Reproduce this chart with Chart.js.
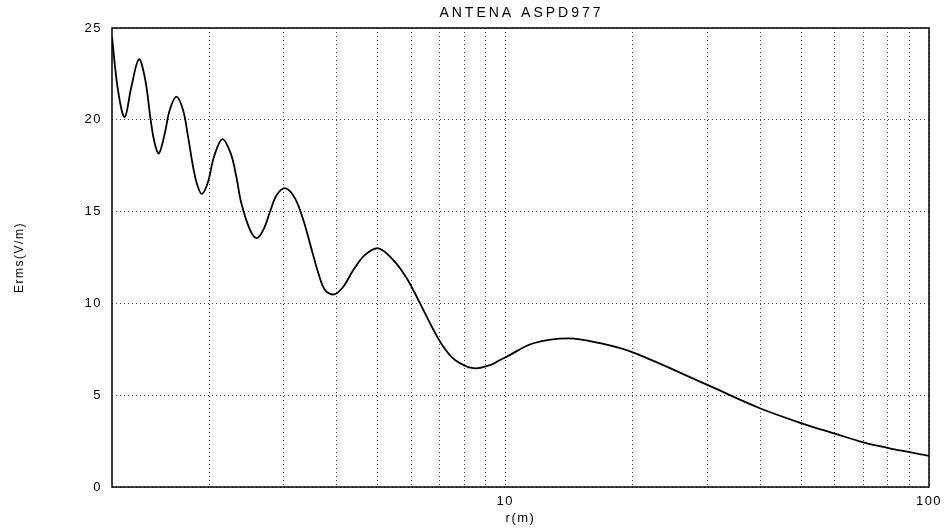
<!DOCTYPE html>
<html>
<head>
<meta charset="utf-8">
<title>ANTENA ASPD977</title>
<script src="https://cdn.jsdelivr.net/npm/chart.js@4/dist/chart.umd.min.js"></script>
<style>
  html, body { margin: 0; padding: 0; background: #fff; }
  #wrap { width: 950px; height: 529px; }
</style>
</head>
<body>
<div id="wrap"><canvas id="antennaChart" width="950" height="529"></canvas></div>
<script>
// distance r (m) and field strength Erms (V/m)
const radiusM = [1.18, 1.219, 1.264, 1.311, 1.366, 1.414, 1.456, 1.488, 1.523, 1.572,
                 1.615, 1.674, 1.736, 1.784, 1.833, 1.876, 1.924, 1.989, 2.054, 2.149,
                 2.249, 2.319, 2.383, 2.498, 2.591, 2.685, 2.785, 2.888, 3.032, 3.19,
                 3.337, 3.494, 3.622, 3.754, 3.944, 4.148, 4.379, 4.667, 5.016, 5.443,
                 5.854, 6.293, 6.708, 7.142, 7.61, 8.408, 9.205, 9.719, 10.08, 11.65,
                 14.09, 16.74, 20.06, 30.0, 39.9, 50.1, 60.3, 70.0, 80.6, 90.7, 100];
const ermsValues = [24.5, 21.62, 20.14, 21.80, 23.30, 22.17, 19.99, 18.72, 18.17, 19.26,
                    20.53, 21.26, 20.53, 19.08, 17.45, 16.45, 15.96, 16.63, 17.99, 18.95,
                    18.17, 16.90, 15.45, 14.0, 13.55, 14.0, 14.99, 15.90, 16.27, 15.72,
                    14.54, 12.91, 11.64, 10.73, 10.49, 10.91, 11.82, 12.64, 13.0, 12.36,
                    11.37, 10.0, 8.73, 7.64, 6.92, 6.47, 6.64, 6.92, 7.10, 7.83,
                    8.10, 7.83, 7.32, 5.56, 4.29, 3.47, 2.89, 2.43, 2.11, 1.89, 1.69];
const xGridTicks = [2, 3, 4, 5, 6, 7, 8, 9, 10, 20, 30, 40, 50, 60, 70, 80, 90, 100];
const xLabelTicks = [10, 100];
const yTicks = [0, 5, 10, 15, 20, 25];
const chartTitle = 'ANTENA ASPD977';

const points = radiusM.map((r, i) => ({ x: r, y: ermsValues[i] }));

// the old plot has wide lettering, canvas state gets reset on resize so set it each time
const wideText = {
  id: 'wideText',
  beforeLayout(chart) { chart.ctx.letterSpacing = '1.5px'; },
  beforeDraw(chart) { chart.ctx.letterSpacing = '1.5px'; }
};

// MATLAB-like closed box + title centred over the axes
const boxFrame = {
  id: 'boxFrame',
  afterDraw(chart) {
    const a = chart.chartArea;
    const c = chart.ctx;
    c.save();
    c.strokeStyle = '#000';
    c.lineWidth = 1.5;
    c.strokeRect(a.left, a.top, a.right - a.left, a.bottom - a.top);
    c.letterSpacing = '3px';
    c.fillStyle = '#000';
    c.font = '14px "Liberation Sans"';
    c.textAlign = 'center';
    c.textBaseline = 'middle';
    c.fillText(chartTitle, (a.left + a.right) / 2 + 1, 13);
    c.restore();
  }
};

const ctx = document.getElementById('antennaChart').getContext('2d');
new Chart(ctx, {
  type: 'line',
  data: {
    datasets: [{
      label: 'Erms',
      data: points,
      borderColor: '#000',
      borderWidth: 1.8,
      pointRadius: 0,
      fill: false,
      tension: 0.35
    }]
  },
  options: {
    responsive: false,
    animation: false,
    devicePixelRatio: 1,
    layout: { padding: { left: 0, right: 21, top: 28, bottom: 0 } },
    plugins: {
      legend: { display: false },
      tooltip: { enabled: false },
      title: { display: false }
    },
    scales: {
      x: {
        type: 'logarithmic',
        min: 1.18,
        max: 100,
        afterBuildTicks: (scale) => {
          scale.ticks = xGridTicks.map(v => ({ value: v }));
        },
        afterFit: (scale) => { scale.height = 42; },
        ticks: {
          autoSkip: false,
          maxRotation: 0,
          padding: 7,
          color: '#000',
          font: { family: 'Liberation Sans', size: 13 },
          callback: (v) => xLabelTicks.includes(v) ? String(v) : ''
        },
        grid: { color: 'rgba(0,0,0,0.75)', lineWidth: 1, drawTicks: false },
        border: { display: false, dash: [1, 3] },
        title: {
          display: true,
          text: 'r(m)',
          color: '#000',
          font: { family: 'Liberation Sans', size: 13 },
          padding: 3
        }
      },
      y: {
        type: 'linear',
        min: 0,
        max: 25,
        afterBuildTicks: (scale) => {
          scale.ticks = yTicks.map(v => ({ value: v }));
        },
        afterFit: (scale) => { scale.width = 112; },
        ticks: {
          padding: 10,
          color: '#000',
          font: { family: 'Liberation Sans', size: 13 }
        },
        grid: { color: 'rgba(0,0,0,0.75)', lineWidth: 1, drawTicks: false },
        border: { display: false, dash: [1, 3] },
        title: {
          display: true,
          text: 'Erms(V/m)',
          color: '#000',
          font: { family: 'Liberation Sans', size: 12 },
          padding: 12
        }
      }
    }
  },
  plugins: [wideText, boxFrame]
});
</script>
</body>
</html>
